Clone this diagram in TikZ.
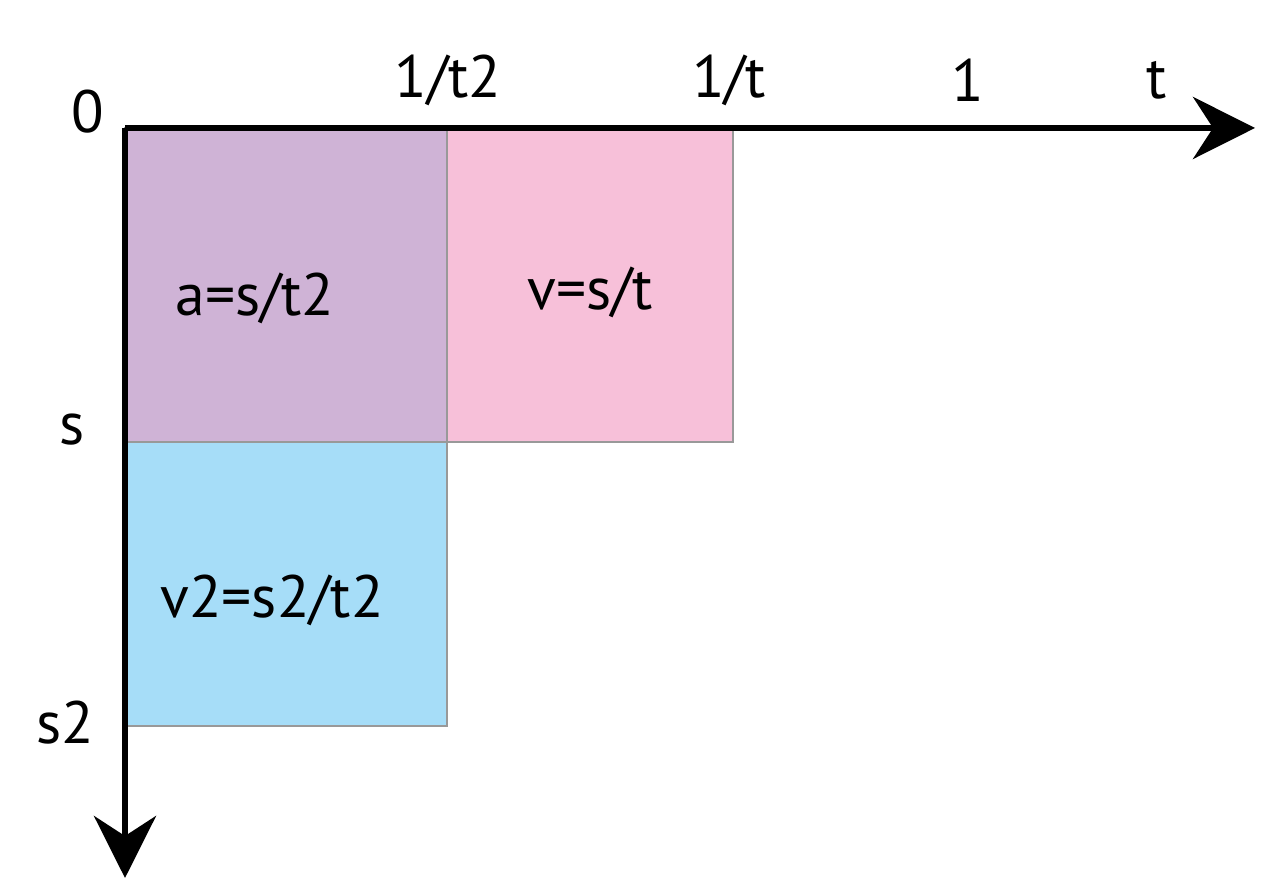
\documentclass[tikz,border=0pt]{standalone}
\usepackage{fontspec}
\setmainfont{PT Sans}
\usetikzlibrary{arrows.meta}
\definecolor{areaA}{HTML}{CFB3D6}
\definecolor{areaV}{HTML}{F7C0D9}
\definecolor{areaVV}{HTML}{A6DDF8}
\tikzset{
  box/.style={draw=black!40, line width=0.3pt},
  axis/.style={line width=1.7pt, -{Stealth[length=6.2mm, width=6.2mm, inset=2mm]}},
  lbl/.style={font=\fontsize{17}{20}\selectfont}
}

\begin{document}
\begin{tikzpicture}
				%%%%% START %%%%%
				\useasboundingbox (0, 0) rectangle (12.8, 8.96);
				
				\draw[box, fill=areaA] (1.25, 4.54) rectangle (4.47, 7.68);
				\draw[box, fill=areaV] (4.47, 4.54) rectangle (7.33, 7.68);
				\draw[box, fill=areaVV] (1.25, 1.70) rectangle (4.47, 4.54);
				
				\draw[axis] (1.25, 7.68) -- (12.55, 7.68);
				\draw[axis] (1.25, 7.68) -- (1.25, 0.18);
				
				\node[lbl] (zero) at (0.88, 7.84) {0};
				\node[lbl] (tsq) at (4.48, 8.16) {1/t2};
				\node[lbl] (tinv) at (7.29, 8.16) {1/t};
				\node[lbl] (one) at (9.68, 8.16) {1};
				\node[lbl] (tlab) at (11.57, 8.16) {t};
				\node[lbl] (slab) at (0.72, 4.66) {s};
				\node[lbl] (ssq) at (0.65, 1.73) {s2};
				
				\node[lbl] (acc) at (2.55, 5.98) {a=s/t2};
				\node[lbl] (vel) at (5.90, 6.04) {v=s/t};
				\node[lbl] (velsq) at (2.72, 2.96) {v2=s2/t2};
				%%%%% END %%%%%
			\end{tikzpicture}
\end{document}
